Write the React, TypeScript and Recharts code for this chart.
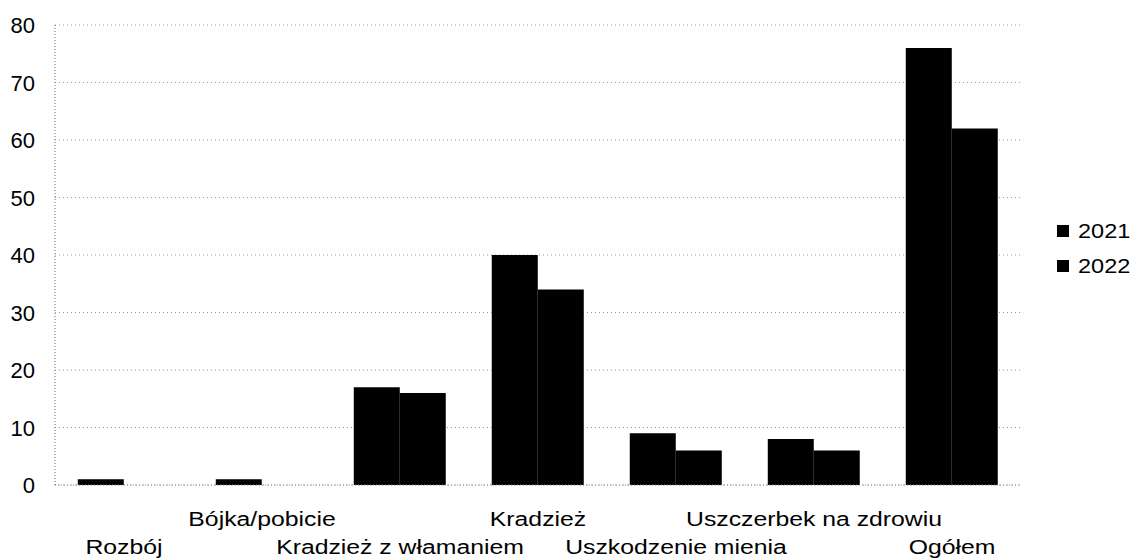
import { BarChart, Bar, XAxis, YAxis, CartesianGrid } from "recharts"

const categories = [
  "Rozbój",
  "Bójka/pobicie",
  "Kradzież z włamaniem",
  "Kradzież",
  "Uszkodzenie mienia",
  "Uszczerbek na zdrowiu",
  "Ogółem",
]
const values2021 = [1, 1, 17, 40, 9, 8, 76]
const values2022 = [0, 0, 16, 34, 6, 6, 62]
const yTicks = [0, 10, 20, 30, 40, 50, 60, 70, 80]
const seriesNames = ["2021", "2022"]

const data = categories.map((name, i) => ({ name, y2021: values2021[i], y2022: values2022[i] }))

const font = "'Liberation Sans', Arial, sans-serif"

// the labels in the source are drawn a bit wider than the font
function StaggeredTick(props: any) {
  const { x, y, payload, index } = props
  const dy = index % 2 === 1 ? 41 : 69
  return (
    <text
      transform={`translate(${x},${y + dy}) scale(1.18,1)`}
      textAnchor="middle"
      fontSize={21}
      fontFamily={font}
      fill="#000"
    >
      {payload.value}
    </text>
  )
}

function YTick(props: any) {
  const { x, y, payload } = props
  return (
    <text x={x} y={y + 8} textAnchor="end" fontSize={22} fontFamily={font} fill="#000">
      {payload.value}
    </text>
  )
}

function LegendBox() {
  return (
    <div
      style={{
        position: "absolute",
        left: 1057,
        top: 213,
        fontFamily: font,
        fontSize: 21,
        color: "#000",
      }}
    >
      {seriesNames.map((s) => (
        <div key={s} style={{ display: "flex", alignItems: "center", height: 35 }}>
          <span style={{ display: "inline-block", width: 12, height: 12, background: "#000", marginRight: 9 }} />
          <span style={{ display: "inline-block", transform: "scaleX(1.12)", transformOrigin: "left center" }}>{s}</span>
        </div>
      ))}
    </div>
  )
}

export default function App() {
  return (
    <div style={{ position: "absolute", left: 0, top: 0, width: 1136, height: 558, background: "#fff" }}>
      <BarChart
        width={1136}
        height={558}
        data={data}
        margin={{ top: 25, right: 115, bottom: 0, left: 0 }}
        barCategoryGap="16.5%"
        barGap={0}
      >
        <CartesianGrid vertical={false} stroke="#999" strokeDasharray="1 3" />
        <XAxis
          dataKey="name"
          interval={0}
          height={73}
          tickSize={0}
          tickMargin={0}
          axisLine={{ stroke: "#888", strokeDasharray: "1 2" }}
          tickLine={false}
          tick={<StaggeredTick />}
        />
        <YAxis
          width={55}
          domain={[0, 80]}
          ticks={yTicks}
          interval={0}
          tickSize={0}
          tickMargin={20}
          tickLine={false}
          axisLine={{ stroke: "#666", strokeDasharray: "1 2" }}
          tick={<YTick />}
        />
        <Bar dataKey="y2021" name="2021" fill="#000" isAnimationActive={false} />
        <Bar dataKey="y2022" name="2022" fill="#000" isAnimationActive={false} />
      </BarChart>
      <LegendBox />
    </div>
  )
}
